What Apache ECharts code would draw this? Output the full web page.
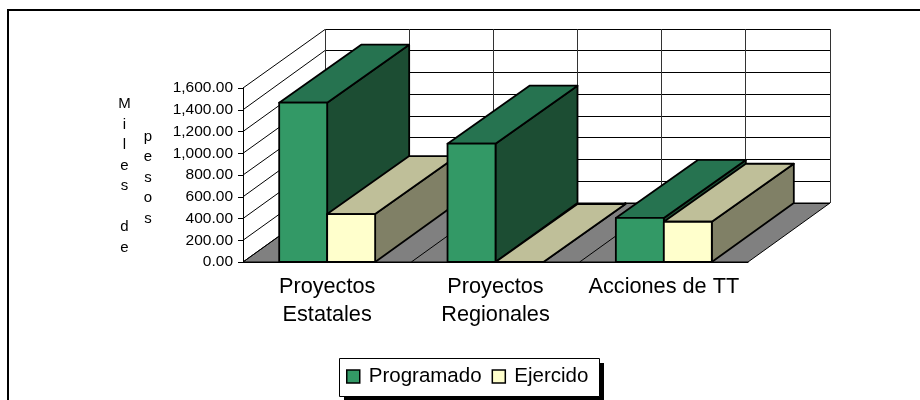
<!DOCTYPE html>
<html>
<head>
<meta charset="utf-8">
<style>html,body{margin:0;padding:0;background:#fff}#c{width:920px;height:400px}</style>
<script src="https://cdn.jsdelivr.net/npm/echarts@6/dist/echarts.min.js"></script>
</head>
<body>
<div id="c"></div>
<script>
var categories = ['Proyectos\nEstatales', 'Proyectos\nRegionales', 'Acciones de TT'];
var programado = [1465, 1088, 405];
var ejercido = [441, 0, 370];
var axisTitleA = 'M\ni\nl\ne\ns\n\nd\ne';
var axisTitleB = 'p\ne\ns\no\ns';
var FONT = '"Liberation Sans", Arial, sans-serif';
var DEPTH_X = 82, DEPTH_Y = -59, BAR_TOP_DEPTH_Y = -58;
var STEP = 200, MAX = 1600;
var FACES = {
  programado: {front: '#339966', top: '#267350', side: '#1c4d33'},
  ejercido: {front: '#ffffcc', top: '#bfbf99', side: '#808066'}
};

function snap(v) { return Math.round(v - 0.5) + 0.5; }

function line(x1, y1, x2, y2, color) {
  return {type: 'line', silent: true, z2: 1,
    shape: {x1: x1, y1: y1, x2: x2, y2: y2},
    style: {stroke: color || '#000', lineWidth: 1}};
}

function renderWalls(params, api) {
  var o = api.coord([0, 0]);
  var band = api.size([1, 0])[0];
  var left = o[0] - band / 2;
  var right = left + band * categories.length;
  var y0 = o[1];
  var yTop = api.coord([0, MAX])[1];
  var kids = [];
  kids.push({type: 'polygon', silent: true, z2: 0,
    shape: {points: [[left, y0], [right, y0], [right + DEPTH_X, y0 + DEPTH_Y], [left + DEPTH_X, y0 + DEPTH_Y]]},
    style: {fill: '#808080', stroke: '#000', lineWidth: 1}});
  for (var v = 0; v <= MAX; v += STEP) {
    var y = api.coord([0, v])[1];
    var by = snap(y + DEPTH_Y);
    kids.push(line(left, y, left + DEPTH_X, by));
    kids.push(line(left + DEPTH_X, by, right + DEPTH_X, by));
  }
  for (var i = 0; i <= categories.length * 2; i++) {
    var x = snap(left + DEPTH_X + i * band / 2);
    kids.push(line(x, yTop + DEPTH_Y, x, y0 + DEPTH_Y, '#333'));
  }
  for (var c = 1; c < categories.length; c++) {
    var fx = left + c * band;
    kids.push(line(fx, y0, fx + DEPTH_X, y0 + DEPTH_Y));
  }
  return {type: 'group', children: kids};
}

function renderBar(faces, slot) {
  return function (params, api) {
    var cat = api.value(0);
    var base = api.coord([cat, 0]);
    var top = api.coord([cat, api.value(1)]);
    var barW = api.size([1, 0])[0] * 0.285;
    var x0 = base[0] + (slot === 0 ? -barW : 0);
    var x1 = x0 + barW;
    var y0 = base[1], y1 = top[1];
    var z = 10 + cat * 3 + slot;
    var st = function (fill) { return {fill: fill, stroke: '#000', lineWidth: 1.8, lineJoin: 'round'}; };
    return {type: 'group', children: [
      {type: 'polygon', z2: z, shape: {points: [[x1, y0], [x1 + DEPTH_X, y0 + DEPTH_Y], [x1 + DEPTH_X, y1 + BAR_TOP_DEPTH_Y], [x1, y1]]}, style: st(faces.side)},
      {type: 'polygon', z2: z, shape: {points: [[x0, y1], [x1, y1], [x1 + DEPTH_X, y1 + BAR_TOP_DEPTH_Y], [x0 + DEPTH_X, y1 + BAR_TOP_DEPTH_Y]]}, style: st(faces.top)},
      {type: 'rect', z2: z, shape: {x: x0, y: y1, width: barW, height: y0 - y1}, style: st(faces.front)}
    ]};
  };
}

function rows(values) {
  return values.map(function (v, i) { return [i, v]; });
}

var chart = echarts.init(document.getElementById('c'), null, {renderer: 'canvas'});
chart.setOption({
  animation: false,
  backgroundColor: '#fff',
  textStyle: {fontFamily: FONT},
  grid: {left: 243, top: 88, width: 505, height: 174, containLabel: false},
  xAxis: {
    type: 'category', data: categories, z: 20,
    axisTick: {show: false},
    axisLine: {show: true, lineStyle: {color: '#000', width: 1}},
    axisLabel: {interval: 0, color: '#000', fontFamily: FONT, fontSize: 21.7, lineHeight: 28, margin: 11},
    splitLine: {show: false}
  },
  yAxis: {
    type: 'value', min: 0, max: MAX, interval: STEP, z: 20,
    axisLine: {show: true, lineStyle: {color: '#000', width: 1}},
    axisTick: {show: true, length: 5, lineStyle: {color: '#000', width: 1}},
    axisLabel: {color: '#000', fontFamily: FONT, fontSize: 15.5, margin: 10,
      formatter: function (v) { return v.toLocaleString('en-US', {minimumFractionDigits: 2, maximumFractionDigits: 2}); }},
    splitLine: {show: false}
  },
  legend: {
    show: true, left: 339, top: 358,
    orient: 'horizontal', icon: 'rect', itemWidth: 13, itemHeight: 13, itemGap: 10,
    padding: [8, 0, 0, 7],
    data: ['Programado', 'Ejercido'],
    textStyle: {color: '#000', fontFamily: FONT, fontSize: 20.5, padding: [0, 0, 0, 4]},
    itemStyle: {borderColor: '#000', borderWidth: 1.5}
  },
  graphic: [
    {type: 'polyline', silent: true, shape: {points: [[8, 400], [8, 10], [920, 10]]}, style: {stroke: '#000', lineWidth: 2, fill: null}},
    {type: 'text', silent: true, x: 124.5, y: 94, style: {text: axisTitleA, font: '15px ' + FONT, lineHeight: 20.5, fill: '#000', align: 'center', verticalAlign: 'top'}},
    {type: 'text', silent: true, x: 148, y: 126.5, style: {text: axisTitleB, font: '15px ' + FONT, lineHeight: 20.5, fill: '#000', align: 'center', verticalAlign: 'top'}},
    {type: 'rect', silent: true, z: -2, shape: {x: 344, y: 363, width: 260, height: 38}, style: {fill: '#000'}},
    {type: 'rect', silent: true, z: -1, shape: {x: 339.5, y: 358.5, width: 260, height: 38}, style: {fill: '#fff', stroke: '#000', lineWidth: 1}}
  ],
  series: [
    {type: 'custom', name: 'walls', silent: true, z: 1, data: [[0, 0]], renderItem: renderWalls, encode: {x: 0, y: 1}, legendHoverLink: false},
    {type: 'custom', name: 'Programado', z: 2, data: rows(programado), itemStyle: {color: FACES.programado.front}, renderItem: renderBar(FACES.programado, 0), encode: {x: 0, y: 1}},
    {type: 'custom', name: 'Ejercido', z: 2, data: rows(ejercido), itemStyle: {color: FACES.ejercido.front}, renderItem: renderBar(FACES.ejercido, 1), encode: {x: 0, y: 1}}
  ]
});
</script>
</body>
</html>
